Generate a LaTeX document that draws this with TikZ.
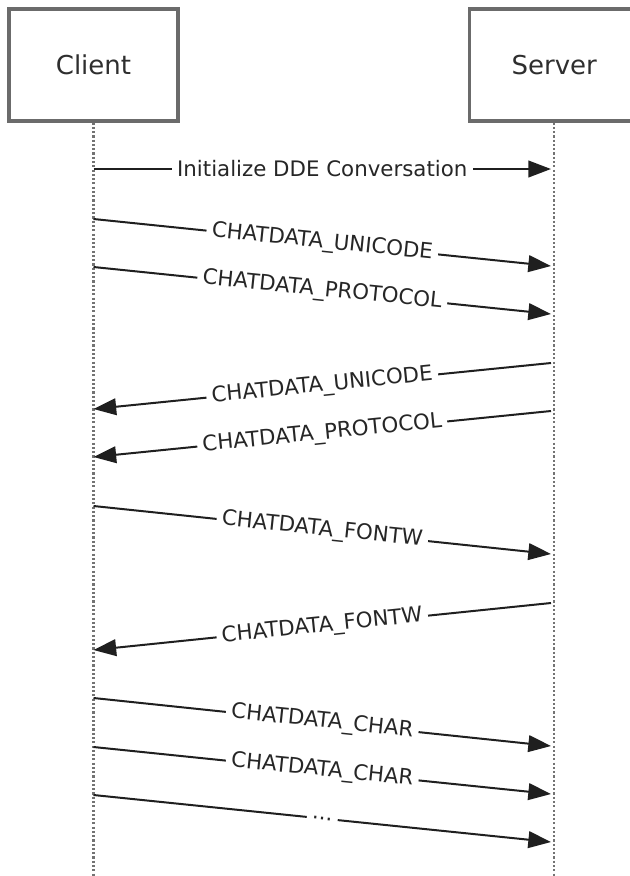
\documentclass[tikz,border=0pt]{standalone}
\usepackage{fontspec}
\setmainfont{DejaVu Sans}
\usepackage{tikz}
\usetikzlibrary{arrows.meta,positioning}

\begin{document}
\begin{tikzpicture}[x=0.75pt, y=-0.75pt]
\tikzset{
    %grot strzalki
    >={Triangle[length=17pt,width=12.5pt]},
    %styl stron
    strona/.style={
           rectangle,
           draw=black!58, line width=2.4pt,
           minimum width=126.75pt,
           minimum height=84pt,
           text=black!82,
           font=\fontsize{19.5}{23}\selectfont},
    %linia zycia
    linia/.style={draw=black!55, line width=1.8pt, dash pattern=on 1.6pt off 1.6pt},
    komunikat/.style={->, line width=1.5pt, draw=black!88},
    opis/.style={midway, sloped, fill=white, inner xsep=4pt, inner ysep=1pt,
           text=black!85, font=\fontsize{16}{19}\selectfont}
}
\useasboundingbox (0,0) rectangle (630,876);

%Strony
\node[strona] (klient) at (93.5,65) {Client};
\node[strona, right=216.4pt of klient] (serwer) {Server};

%Linie zycia
\coordinate (dol) at (0,876);
\draw[linia] (klient.south) -- (klient.south |- dol);
\draw[linia] (serwer.south) -- (serwer.south |- dol);

%Punkty
\coordinate (k1) at (93.5,169);  \coordinate (s1) at (551,169);
\coordinate (k2) at (93.5,219);  \coordinate (s2) at (551,266);
\coordinate (k3) at (93.5,267);  \coordinate (s3) at (551,314);
\coordinate (s4) at (551,363);   \coordinate (k4) at (93.5,409);
\coordinate (s5) at (551,411);   \coordinate (k5) at (93.5,457);
\coordinate (k6) at (93.5,506);  \coordinate (s6) at (551,554);
\coordinate (s7) at (551,603);   \coordinate (k7) at (93.5,650);
\coordinate (k8) at (93.5,698);  \coordinate (s8) at (551,746);
\coordinate (k9) at (93.5,747);  \coordinate (s9) at (551,794);
\coordinate (k10) at (93.5,795); \coordinate (s10) at (551,842);

%Strzalki
\draw[komunikat] (k1) -- (s1) node[opis] (init) {Initialize DDE Conversation};
\draw[komunikat] (k2) -- (s2) node[opis] (uni1) {CHATDATA\_UNICODE};
\draw[komunikat] (k3) -- (s3) node[opis] (prot1) {CHATDATA\_PROTOCOL};
\draw[komunikat] (s4) -- (k4) node[opis] (uni2) {CHATDATA\_UNICODE};
\draw[komunikat] (s5) -- (k5) node[opis] (prot2) {CHATDATA\_PROTOCOL};
\draw[komunikat] (k6) -- (s6) node[opis] (font1) {CHATDATA\_FONTW};
\draw[komunikat] (s7) -- (k7) node[opis] (font2) {CHATDATA\_FONTW};
\draw[komunikat] (k8) -- (s8) node[opis] (char1) {CHATDATA\_CHAR};
\draw[komunikat] (k9) -- (s9) node[opis] (char2) {CHATDATA\_CHAR};
\draw[komunikat] (k10) -- (s10) node[opis] (dalej) {...};
\end{tikzpicture}
\end{document}
